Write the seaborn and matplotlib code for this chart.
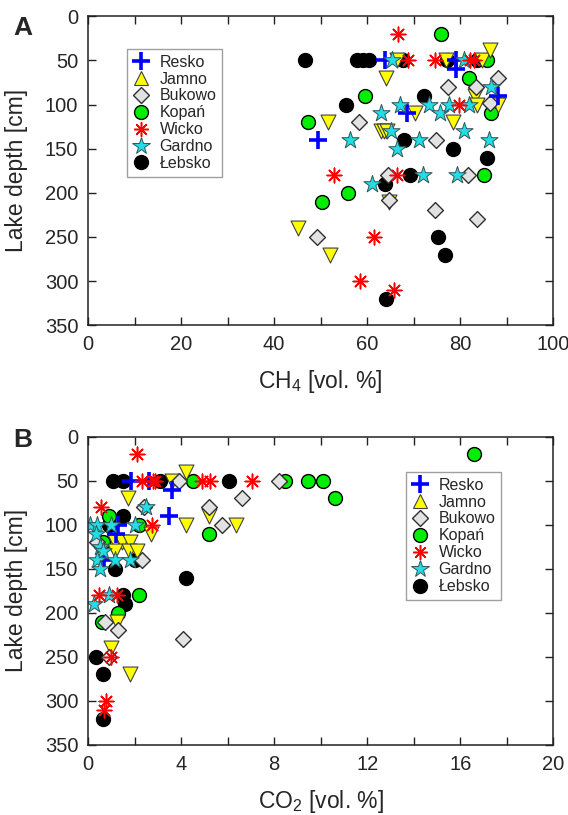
import numpy as np
import pandas as pd
import matplotlib
matplotlib.use("Agg")
import matplotlib.pyplot as plt
from matplotlib.lines import Line2D
from matplotlib.ticker import MultipleLocator
import seaborn as sns

# Data: (gas %, lake depth cm) per lake
lakes = ["Resko", "Jamno", "Bukowo", "Kopań", "Wicko", "Gardno", "Łebsko"]

# --- Panel A: CH4
ch4_resko = [49.5, 63.9, 68.5, 79.1, 79.1, 88.2]
dep_a_resko = [140, 50, 110, 50, 60, 90]
ch4_jamno = [45.2, 51.5, 52.0, 63.0, 63.6, 64.3, 64.0, 64.8, 66.4, 70.2, 77.0, 78.4, 83.2, 83.6, 84.7, 86.5, 88.2]
dep_a_jamno = [240, 120, 270, 130, 130, 130, 70, 210, 50, 110, 50, 120, 90, 100, 50, 38, 100]
ch4_bukowo = [49.2, 58.3, 64.4, 64.8, 74.6, 74.8, 77.3, 81.6, 83.4, 83.7, 86.5, 88.2]
dep_a_bukowo = [250, 120, 180, 208, 220, 140, 80, 180, 80, 230, 98, 70]
ch4_kopan = [47.2, 50.3, 55.8, 59.6, 75.9, 82.0, 85.2, 85.7, 86.7]
dep_a_kopan = [120, 210, 200, 90, 20, 70, 180, 50, 110]
ch4_wicko = [52.8, 58.5, 61.5, 65.7, 66.4, 66.7, 68.7, 74.6, 79.8, 82.2, 82.9]
dep_a_wicko = [180, 300, 250, 310, 180, 20, 50, 50, 100, 50, 50]
ch4_gardno = [56.3, 61.0, 63.0, 65.2, 65.3, 66.5, 67.1, 71.2, 72.0, 73.2, 75.7, 77.5, 79.4, 80.9, 80.9, 82.0, 86.2, 86.6]
dep_a_gardno = [140, 190, 110, 130, 50, 150, 100, 140, 180, 100, 110, 100, 180, 50, 130, 100, 140, 80]
ch4_lebsko = [46.7, 55.4, 57.8, 59.2, 60.5, 63.9, 64.0, 67.8, 68.0, 69.2, 72.3, 75.3, 76.8, 77.1, 78.4, 83.6, 85.7]
dep_a_lebsko = [50, 100, 50, 50, 50, 190, 320, 50, 140, 180, 90, 250, 270, 50, 150, 50, 160]

# --- Panel B: CO2
co2_resko = [1.85, 2.6, 3.6, 3.5, 1.3, 1.2, 0.7]
dep_b_resko = [50, 50, 60, 90, 100, 110, 140]
co2_jamno = [4.2, 3.6, 1.7, 5.2, 4.2, 6.35, 2.7, 1.15, 1.45, 1.8, 1.15, 1.75, 2.1, 1.26, 1.0, 1.8]
dep_b_jamno = [40, 50, 70, 90, 100, 100, 110, 120, 120, 120, 130, 130, 130, 210, 240, 270]
co2_bukowo = [3.9, 8.2, 2.4, 5.2, 6.6, 5.75, 0.4, 2.3, 0.73, 1.3, 4.07, 0.9]
dep_b_bukowo = [50, 50, 80, 80, 70, 100, 120, 140, 210, 220, 230, 250]
co2_kopan = [16.6, 4.5, 8.47, 9.45, 10.1, 10.6, 0.9, 2.2, 5.2, 0.65, 2.2, 1.3, 0.6]
dep_b_kopan = [20, 50, 50, 50, 50, 70, 90, 100, 110, 120, 180, 200, 210]
co2_wicko = [2.1, 2.31, 2.8, 2.88, 4.92, 5.25, 7.07, 0.55, 2.75, 0.45, 1.25, 1.0, 0.77, 0.7]
dep_b_wicko = [20, 50, 50, 50, 50, 50, 50, 80, 100, 180, 180, 250, 300, 310]
co2_gardno = [2.5, 0.1, 0.37, 1.0, 2.0, 0.35, 0.5, 0.66, 0.4, 1.15, 1.8, 0.5, 0.9, 0.26]
dep_b_gardno = [80, 100, 100, 100, 100, 110, 125, 130, 140, 140, 140, 150, 180, 190]
co2_lebsko = [1.09, 1.49, 3.1, 6.08, 1.5, 0.9, 2.0, 1.15, 4.2, 1.5, 1.6, 0.35, 0.66, 0.66]
dep_b_lebsko = [50, 50, 50, 50, 90, 100, 140, 150, 160, 180, 190, 250, 270, 320]

panel_a = {
    "Resko": (ch4_resko, dep_a_resko), "Jamno": (ch4_jamno, dep_a_jamno),
    "Bukowo": (ch4_bukowo, dep_a_bukowo), "Kopań": (ch4_kopan, dep_a_kopan),
    "Wicko": (ch4_wicko, dep_a_wicko), "Gardno": (ch4_gardno, dep_a_gardno),
    "Łebsko": (ch4_lebsko, dep_a_lebsko),
}
panel_b = {
    "Resko": (co2_resko, dep_b_resko), "Jamno": (co2_jamno, dep_b_jamno),
    "Bukowo": (co2_bukowo, dep_b_bukowo), "Kopań": (co2_kopan, dep_b_kopan),
    "Wicko": (co2_wicko, dep_b_wicko), "Gardno": (co2_gardno, dep_b_gardno),
    "Łebsko": (co2_lebsko, dep_b_lebsko),
}

def to_frame(d):
    rows = []
    for lake, (xs, ys) in d.items():
        for x, y in zip(xs, ys):
            rows.append({"lake": lake, "gas": x, "depth": y})
    return pd.DataFrame(rows)

df_a = to_frame(panel_a)
df_b = to_frame(panel_b)

asterisk = (8, 2, 0)
styles = {
    "Resko": dict(marker="+", color="#0000ff", s=150, linewidth=2.6),
    "Jamno": dict(marker="v", color="#ffff00", edgecolor="#404040", s=115, linewidth=0.8),
    "Bukowo": dict(marker="D", color="#e2e2e2", edgecolor="#303030", s=65, linewidth=1.0),
    "Kopań": dict(marker="o", color="#00ee00", edgecolor="black", s=100, linewidth=1.0),
    "Wicko": dict(marker=asterisk, color="#ff0000", s=110, linewidth=1.1),
    "Gardno": dict(marker="*", color="#22dde8", edgecolor="#335555", s=170, linewidth=0.7),
    "Łebsko": dict(marker="o", color="black", edgecolor="black", s=100, linewidth=1.0),
}
draw_order = ["Łebsko", "Kopań", "Jamno", "Bukowo", "Resko", "Gardno", "Wicko"]

sns.set_style("ticks")
plt.rcParams["font.family"] = ["Liberation Sans", "DejaVu Sans"]
plt.rcParams["mathtext.fontset"] = "custom"
plt.rcParams["mathtext.rm"] = "Liberation Sans"
plt.rcParams["mathtext.default"] = "regular"

fig = plt.figure(figsize=(5.68, 8.15), dpi=100)
ax_a = fig.add_axes([0.155, 0.601, 0.819, 0.379])
ax_b = fig.add_axes([0.155, 0.086, 0.819, 0.378])

for ax, df in [(ax_a, df_a), (ax_b, df_b)]:
    for lake in draw_order:
        sub = df[df["lake"] == lake]
        sns.scatterplot(data=sub, x="gas", y="depth", ax=ax, legend=False, **styles[lake])

def style_axis(ax, xmax, xmajor, xminor, xlabel):
    ax.set_xlim(0, xmax)
    ax.set_ylim(350, 0)
    ax.xaxis.set_major_locator(MultipleLocator(xmajor))
    ax.xaxis.set_minor_locator(MultipleLocator(xminor))
    ax.yaxis.set_major_locator(MultipleLocator(50))
    ax.tick_params(which="both", direction="in", top=True, right=True,
                   length=6, width=1.0, color="#222222")
    ax.tick_params(axis="x", which="major", labelsize=14.5, pad=7)
    ax.tick_params(axis="y", which="major", labelsize=14.5, pad=7)
    for sp in ax.spines.values():
        sp.set_linewidth(1.1)
        sp.set_color("#222222")
    ax.set_xlabel(xlabel, fontsize=16.5, labelpad=10)
    ax.set_ylabel("Lake depth [cm]", fontsize=16.5, labelpad=12)

style_axis(ax_a, 100, 20, 10, "CH$_4$ [vol. %]")
style_axis(ax_b, 20, 4, 2, "CO$_2$ [vol. %]")

leg_handles = []
for lake in lakes:
    st = styles[lake]
    mk = "^" if lake == "Jamno" else st["marker"]
    ms = np.sqrt(st["s"])
    leg_handles.append(Line2D([], [], linestyle="none", marker=mk, markersize=ms,
                              markerfacecolor=st["color"],
                              markeredgecolor=st.get("edgecolor", st["color"]),
                              markeredgewidth=st["linewidth"], label=lake))

for ax, anchor in [(ax_a, (127 / 568, 1 - 49 / 815)), (ax_b, (406 / 568, 1 - 472 / 815))]:
    leg = ax.legend(handles=leg_handles, loc="upper left", bbox_to_anchor=anchor,
                    bbox_transform=fig.transFigure, fontsize=11.5, frameon=True,
                    fancybox=False, edgecolor="#888888", handlelength=1.0,
                    handletextpad=0.7, labelspacing=0.12, borderpad=0.35,
                    borderaxespad=0)
    leg.get_frame().set_linewidth(1.0)

fig.text(13 / 568, 1 - 28 / 815, "A", fontsize=19, fontweight="bold", va="center")
fig.text(13 / 568, 1 - 440 / 815, "B", fontsize=19, fontweight="bold", va="center")

fig.savefig("out.png", dpi=100)
